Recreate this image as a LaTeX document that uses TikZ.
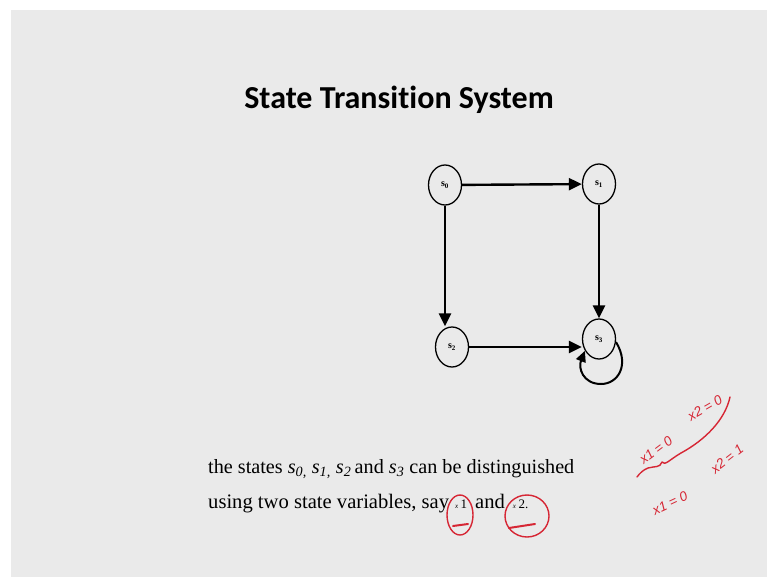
\documentclass[tikz,border=0pt]{standalone}
\usepackage{fontspec}
\setmainfont{Liberation Serif}
\newfontfamily\titlefont[Ligatures=NoCommon]{Carlito}
\newfontfamily\handfont{Liberation Sans}
\usetikzlibrary{arrows.meta,shapes.geometric}
\definecolor{slidebg}{HTML}{EAEAEA}
\definecolor{pen}{RGB}{214,38,52}
\newcommand{\smallvar}[1]{{\fontsize{7}{7}\selectfont\itshape x}\hspace{2.5pt}{\fontsize{13}{13}\selectfont #1}}
\tikzset{
  statenode/.style={ellipse, draw=black, line width=1.3pt, minimum width=33pt,
    minimum height=40pt, inner sep=0pt, font=\fontsize{10}{10}\selectfont\bfseries},
  trans/.style={line width=2.4pt, -{Triangle[length=13pt,width=12pt]}},
  ink/.style={pen, line width=1.4pt, line cap=round, line join=round},
  inktext/.style={text=pen, font=\handfont\itshape\fontsize{13.5}{13.5}\selectfont, inner sep=0pt}
}
\begin{document}
\begin{tikzpicture}[x=1pt,y=-1pt]
\useasboundingbox (0,0) rectangle (767,577);
\fill[white] (0,0) rectangle (767,577);
\fill[slidebg] (11,10) rectangle (767,577);

% title
\node[anchor=base, font=\titlefont\bfseries\fontsize{32}{32}\selectfont] (title) at (399,109) {State Transition System};

% states
\node[statenode] (s0) at (445,185) {s\textsubscript{0}};
\node[statenode] (s1) at (599,184) {s\textsubscript{1}};
\node[statenode] (s2) at (452,347) {s\textsubscript{2}};
\node[statenode] (s3) at (599,339) {s\textsubscript{3}};

% transitions
\draw[trans] (s0) -- (s1);
\draw[trans] (s0.south) -- (s0.south |- s2.north);
\draw[trans] (s1) -- (s3);
\draw[trans] (s2.east) -- (s2.east -| s3.west);
\draw[line width=2pt, -{Triangle[length=11pt,width=10pt]}] (s3.-10)
  .. controls (630,365) and (618,384) .. (601,384)
  .. controls (583,384) and (578,368) .. (s3.-140);

% description
\node[anchor=base west, font=\fontsize{20.2}{20}\selectfont, inner sep=0pt] (line1) at (208,473)
  {the states \textit{s}\textsubscript{\textit{0,}} \textit{s}\textsubscript{\textit{1,}} \textit{s}\textsubscript{\textit{2}}\,and \textit{s}\textsubscript{\textit{3}} can be distinguished};
\node[anchor=base west, font=\fontsize{20.6}{20}\selectfont, inner sep=0pt] (line2) at (208,508)
  {using two state variables, say\hspace{6pt}\smallvar{1}\hspace{8pt}and\hspace{8pt}\smallvar{2.}};

% pen marks around the variables
\coordinate (cx1) at (460,515);
\coordinate (cx2) at (527,516);
\draw[ink] (cx1) ellipse[x radius=13, y radius=20];
\draw[ink, line width=2pt] (453,526) -- (468,524);
\draw[ink] (cx2) ellipse[x radius=22, y radius=21];
\draw[ink, line width=2pt] (509,528) -- (535,524);

% pen notes on the right
\node[inktext, rotate=37] (n1) at (656,450) {x1 = 0};
\node[inktext, rotate=30] (n2) at (705,408) {x2 = 0};
\node[inktext, rotate=38] (n3) at (727,459) {x2 = 1};
\node[inktext, rotate=25] (n4) at (670,503) {x1 = 0};
\coordinate (b0) at (637,477);
\coordinate (b1) at (730,397);
\draw[ink] (b0) .. controls (640,473) and (643,470) .. (648,468)
  .. controls (655,466) and (660,468) .. (662,462)
  .. controls (665,466) and (669,460) .. (681,453)
  .. controls (705,440) and (725,420) .. (b1);
\end{tikzpicture}
\end{document}
